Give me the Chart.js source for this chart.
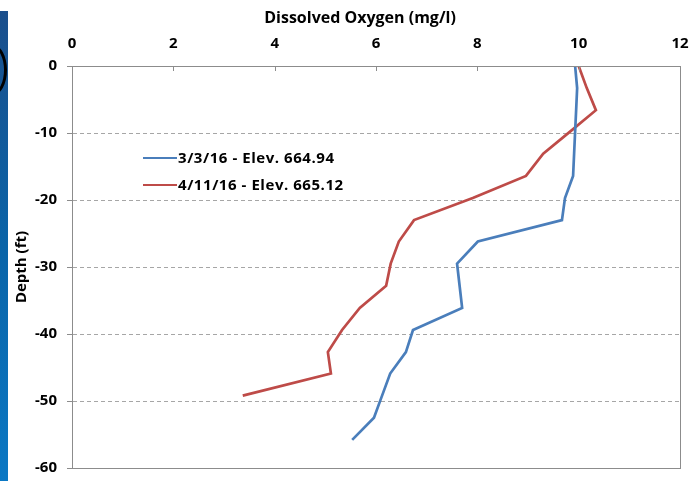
<!DOCTYPE html>
<html>
<head>
<meta charset="utf-8">
<script src="https://cdn.jsdelivr.net/npm/chart.js@4.4.1/dist/chart.umd.min.js"></script>
<style>
  html, body { margin: 0; padding: 0; background: #ffffff; }
  #wrap { position: relative; width: 691px; height: 481px; overflow: hidden; background: #fff; }
  #strip { position: absolute; left: 0; top: 11px; width: 8px; height: 470px;
           background: linear-gradient(to bottom, #1b4f8c 0%, #0a64a8 50%, #0b78c4 100%); }
  #arc { position: absolute; left: -21px; top: 45px; width: 28px; height: 50px;
         border: 3px solid #000; border-radius: 50%; box-sizing: border-box; }
  canvas { position: absolute; left: 0; top: 0; }
  #legend { position: absolute; left: 143px; top: 144px; font-family: "Open Sans", Lato, sans-serif;
            font-weight: bold; font-size: 15px; letter-spacing: 0.55px; color: #000; line-height: 27px; }
  #legend .row { display: flex; align-items: center; white-space: nowrap; }
  #legend .sw { width: 34px; height: 0; border-top: 2.5px solid; margin-right: 1px; }
</style>
</head>
<body>
<div id="wrap">
  <div id="strip"></div>
  <div id="arc"></div>
  <canvas id="c" width="691" height="481"></canvas>
  <div id="legend"></div>
</div>
<script>
// ---- data ----
const seriesLabels = ["3/3/16 - Elev. 664.94", "4/11/16 - Elev. 665.12"];
const depthBlue = [0, -3.3, -6.6, -9.8, -13.1, -16.4, -19.7, -23.0, -26.2, -29.5, -32.8, -36.1, -39.4, -42.7, -45.9, -49.2, -52.5, -55.8];
const doBlue    = [9.93, 9.97, 9.95, 9.93, 9.91, 9.89, 9.73, 9.67, 8.01, 7.60, 7.65, 7.70, 6.73, 6.59, 6.28, 6.12, 5.96, 5.53];
const depthRed  = [0, -3.3, -6.6, -9.8, -13.1, -16.4, -19.7, -23.0, -26.2, -29.5, -32.8, -36.1, -39.4, -42.7, -45.9, -49.2];
const doRed     = [10.0, 10.16, 10.34, 9.83, 9.30, 8.96, 7.91, 6.75, 6.45, 6.29, 6.20, 5.68, 5.33, 5.05, 5.11, 3.37];
const xTicks = [0, 2, 4, 6, 8, 10, 12];
const yTicks = [0, -10, -20, -30, -40, -50, -60];
const xTitle = "Dissolved Oxygen (mg/l)";
const yTitle = "Depth (ft)";

const colors = ["#4a7ebb", "#be4b48"];
const FONT = "'Open Sans', Lato, sans-serif";

function pts(xs, ys) { return xs.map((x, i) => ({ x: x, y: ys[i] })); }

// legend (HTML)
const leg = document.getElementById('legend');
seriesLabels.forEach((lab, i) => {
  const r = document.createElement('div'); r.className = 'row';
  const s = document.createElement('span'); s.className = 'sw'; s.style.borderTopColor = colors[i];
  const t = document.createElement('span'); t.textContent = lab;
  r.appendChild(s); r.appendChild(t); leg.appendChild(r);
});

const framePlugin = {
  id: 'frame',
  afterDraw(chart) {
    const { ctx, chartArea: a, scales } = chart;
    ctx.save();
    ctx.strokeStyle = '#8c8c8c'; ctx.lineWidth = 1;
    ctx.strokeRect(Math.round(a.left) + 0.5, Math.round(a.top) + 0.5, Math.round(a.right - a.left), Math.round(a.bottom - a.top));
    xTicks.forEach(v => {
      const px = Math.round(scales.x.getPixelForValue(v)) + 0.5;
      ctx.beginPath(); ctx.moveTo(px, a.top); ctx.lineTo(px, a.top + 5); ctx.stroke();
    });
    ctx.fillStyle = '#000';
    ctx.font = "bold 16px " + FONT;
    ctx.textAlign = 'center'; ctx.textBaseline = 'middle';
    ctx.fillText(xTitle, 360, 18);
    ctx.translate(22, 267); ctx.rotate(-Math.PI / 2);
    ctx.font = "bold 15px " + FONT;
    ctx.fillText(yTitle, 0, 0);
    ctx.restore();
  }
};

new Chart(document.getElementById('c'), {
  type: 'scatter',
  data: {
    datasets: [
      { label: seriesLabels[0], data: pts(doBlue, depthBlue), showLine: true, borderColor: colors[0], backgroundColor: colors[0], borderWidth: 2.7, pointRadius: 0, tension: 0 },
      { label: seriesLabels[1], data: pts(doRed, depthRed), showLine: true, borderColor: colors[1], backgroundColor: colors[1], borderWidth: 2.7, pointRadius: 0, tension: 0 }
    ]
  },
  options: {
    responsive: false,
    animation: false,
    layout: { padding: { left: 0, right: 11, top: 0, bottom: 13 } },
    plugins: { legend: { display: false }, tooltip: { enabled: false }, title: { display: false } },
    scales: {
      x: {
        type: 'linear', position: 'top', min: 0, max: 12,
        afterBuildTicks: s => { s.ticks = xTicks.map(v => ({ value: v })); },
        afterFit: s => { s.height = 66; s.paddingLeft = 0; s.paddingRight = 0; },
        ticks: { color: '#000', font: { family: FONT, weight: 'bold', size: 15 }, padding: 13, maxRotation: 0 },
        grid: { drawOnChartArea: false, drawTicks: false },
        border: { display: true, color: '#8c8c8c' }
      },
      y: {
        type: 'linear', min: -60, max: 0,
        afterBuildTicks: s => { s.ticks = yTicks.map(v => ({ value: v })); },
        afterFit: s => { s.width = 72; s.paddingTop = 0; s.paddingBottom = 0; },
        ticks: { color: '#000', font: { family: FONT, weight: 'bold', size: 15 }, padding: 10 },
        grid: {
          color: c => (c.tick && (c.tick.value === 0 || c.tick.value === -60)) ? 'rgba(0,0,0,0)' : '#a6a6a6',
          tickColor: '#8c8c8c', tickLength: 5, lineWidth: 1
        },
        border: { display: true, color: '#8c8c8c', dash: [4, 3] }
      }
    }
  },
  plugins: [framePlugin]
});
</script>
</body>
</html>
